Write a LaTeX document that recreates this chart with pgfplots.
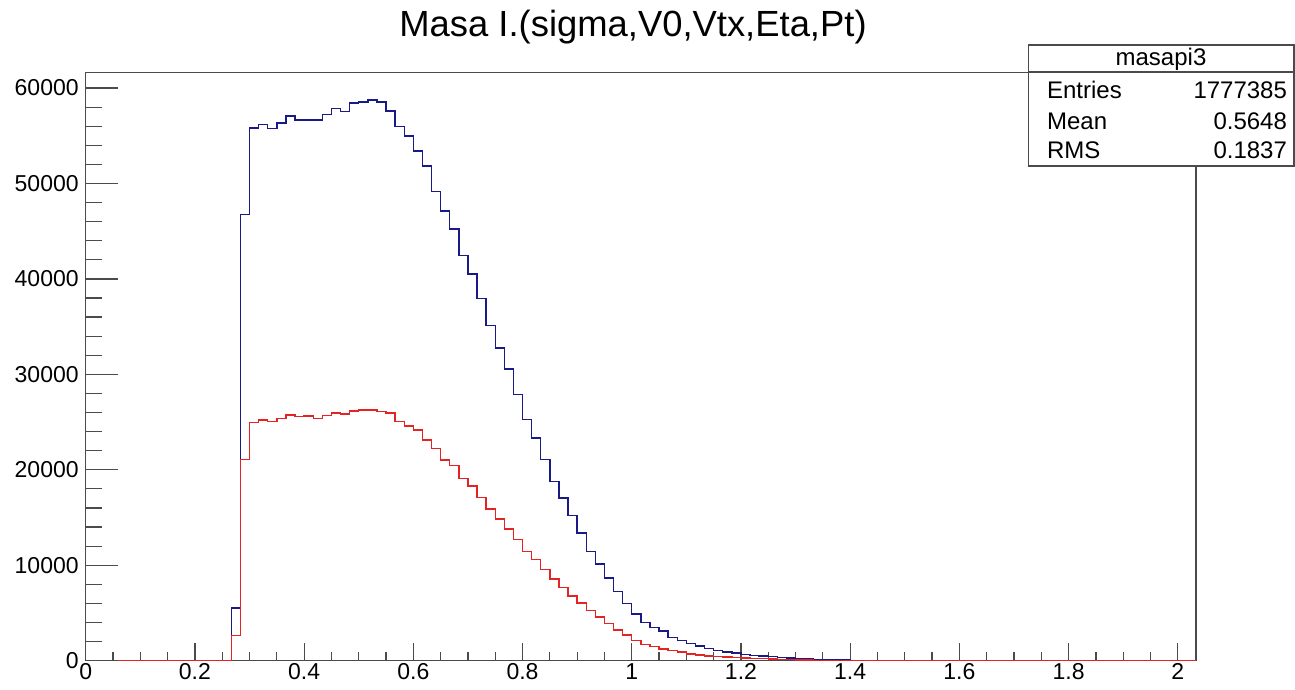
\documentclass[border=0pt]{standalone}
\usepackage{fontspec}
\setmainfont{Liberation Sans}
\usepackage{pgfplots}
\pgfplotsset{compat=1.18}
\definecolor{hblue}{RGB}{25,25,135}
\definecolor{hred}{RGB}{228,35,35}
\definecolor{framec}{RGB}{75,75,75}

\pgfplotstableread{
x y
0 0
0.266667 5540
0.283333 46780
0.3 55830
0.316667 56180
0.333333 55760
0.35 56350
0.366667 57080
0.383333 56630
0.4 56630
0.416667 56630
0.433333 57230
0.45 57860
0.466667 57510
0.483333 58450
0.5 58550
0.516667 58730
0.533333 58520
0.55 57610
0.566667 55940
0.583333 54970
0.6 53400
0.616667 51830
0.633333 49150
0.65 47130
0.666667 45220
0.683333 42470
0.7 40510
0.716667 37930
0.733333 35110
0.75 32760
0.766667 30550
0.783333 27860
0.8 25270
0.816667 23340
0.833333 21110
0.85 18780
0.866667 17030
0.883333 15190
0.9 13380
0.916667 11460
0.933333 10140
0.95 8670
0.966667 7260
0.983333 5990
1.0 4880
1.016667 4000
1.033333 3480
1.05 3100
1.066667 2430
1.083333 2120
1.1 1780
1.116667 1530
1.133333 1250
1.15 1080
1.166667 900
1.183333 800
1.2 660
1.216667 560
1.233333 490
1.25 420
1.266667 350
1.283333 300
1.3 240
1.316667 190
1.333333 150
1.35 115
1.366667 85
1.383333 60
1.4 40
1.416667 0
2.033333 0
}\bluedata

\pgfplotstableread{
x y
0 0
0.266667 2640
0.283333 21110
0.3 24940
0.316667 25220
0.333333 25050
0.35 25360
0.366667 25740
0.383333 25570
0.4 25640
0.416667 25390
0.433333 25710
0.45 25950
0.466667 25840
0.483333 26160
0.5 26260
0.516667 26260
0.533333 26120
0.55 25950
0.566667 25050
0.583333 24590
0.6 24170
0.616667 23130
0.633333 22260
0.65 21040
0.666667 20480
0.683333 19090
0.7 18320
0.716667 17080
0.733333 15880
0.75 14840
0.766667 13790
0.783333 12680
0.8 11460
0.816667 10590
0.833333 9550
0.85 8570
0.866667 7700
0.883333 6760
0.9 6060
0.916667 5260
0.933333 4560
0.95 3900
0.966667 3220
0.983333 2690
1.0 2120
1.016667 1690
1.033333 1460
1.05 1210
1.066667 1040
1.083333 900
1.1 700
1.116667 600
1.133333 500
1.15 430
1.166667 370
1.183333 330
1.2 290
1.216667 250
1.233333 200
1.25 160
1.266667 130
1.283333 100
1.3 80
1.316667 60
1.333333 45
1.35 35
1.366667 25
1.383333 15
1.4 10
1.416667 0
2.033333 0
}\reddata

\begin{document}
\begin{tikzpicture}[x=0.5pt,y=0.5pt]
\useasboundingbox (0,0) rectangle (1295,690);
\pgfplotsset{
  common/.style={
    at={(42.85pt,14.65pt)}, anchor=south west,
    scale only axis, width=555.15pt, height=294.2pt,
    xmin=0, xmax=2.033333, ymin=0, ymax=61650,
    scaled y ticks=false, scaled x ticks=false,
    tick align=inside, xtick pos=left, ytick pos=left,
    tick style={framec, line width=0.6pt},
    ticklabel style={font=\fontsize{11.5}{13}\selectfont, text=black},
    clip=false,
  }
}
\begin{axis}[common,
    axis line style={framec, line width=0.7pt},
    xtick={0,0.2,0.4,0.6,0.8,1,1.2,1.4,1.6,1.8,2},
    xticklabels={0,0.2,0.4,0.6,0.8,1,1.2,1.4,1.6,1.8,2},
    minor x tick num=3,
    major tick length=9pt, minor tick length=4.5pt,
    ytick={0,10000,20000,30000,40000,50000,60000},
    yticklabels={0,10000,20000,30000,40000,50000,60000},
    ytick style={draw=none},
    xticklabel style={yshift=2pt},
  ]
  \addplot[const plot, hblue, line width=0.7pt] table[x=x,y=y]{\bluedata};
  \addplot[const plot, hred, line width=0.7pt] table[x=x,y=y]{\reddata};
\end{axis}
\begin{axis}[common,
    axis line style={draw=none},
    xtick=\empty,
    ytick={0,10000,20000,30000,40000,50000,60000},
    yticklabels={},
    minor y tick num=4,
    major tick length=16pt, minor tick length=8pt,
  ]
  \addplot[draw=none] coordinates {(0,0)};
\end{axis}
% title
\node[font=\fontsize{18.2}{20}\selectfont] at (633,663) {Masa I.(sigma,V0,Vtx,Eta,Pt)};
% stats box
\fill[white] (1028.5,524) rectangle (1294,645);
\draw[framec, line width=0.7pt] (1028.5,524) rectangle (1294,645);
\draw[framec, line width=0.7pt] (1028.5,618) -- (1294,618);
\node[font=\fontsize{12}{14}\selectfont] at (1161,631) {masapi3};
\node[font=\fontsize{12}{14}\selectfont, anchor=west] at (1040,600) {Entries};
\node[font=\fontsize{12}{14}\selectfont, anchor=west] at (1040,569) {Mean};
\node[font=\fontsize{12}{14}\selectfont, anchor=west] at (1040,540) {RMS};
\node[font=\fontsize{12}{14}\selectfont, anchor=east] at (1294,600) {1777385};
\node[font=\fontsize{12}{14}\selectfont, anchor=east] at (1294,569) {0.5648};
\node[font=\fontsize{12}{14}\selectfont, anchor=east] at (1294,540) {0.1837};
\end{tikzpicture}
\end{document}
